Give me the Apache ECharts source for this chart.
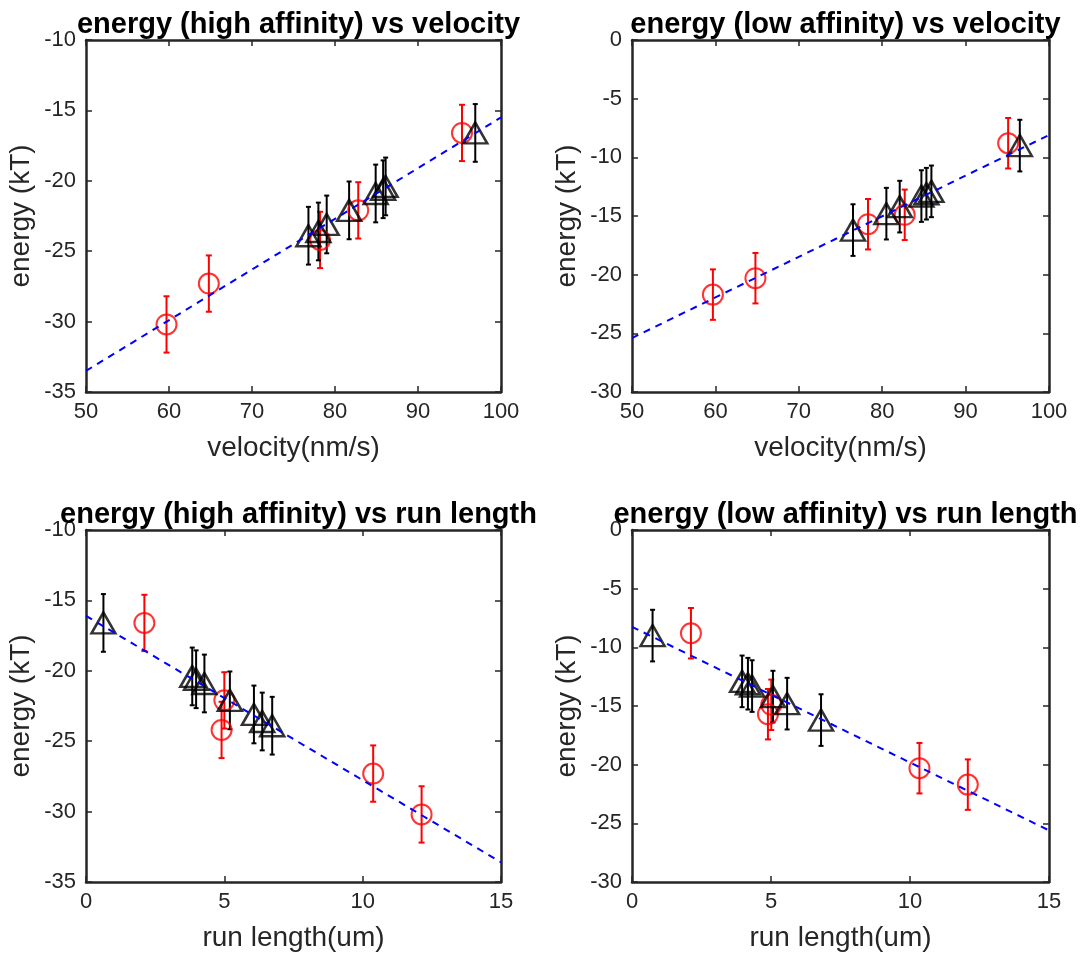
<!DOCTYPE html>
<html>
<head>
<meta charset="utf-8">
<script src="https://cdn.jsdelivr.net/npm/echarts@6/dist/echarts.min.js"></script>
<style>
  html, body { margin: 0; padding: 0; background: #fff; }
  #chart { width: 1086px; height: 955px; }
</style>
</head>
<body>
<div id="chart"></div>
<script>
// high affinity: red circles / black triangles
const velHiCircle = [59.7, 64.8, 78.2, 82.8, 95.3];
const runHiCircle = [12.13, 10.38, 4.9, 5.0, 2.11];
const engHiCircle = [-30.2, -27.3, -24.2, -22.1, -16.6];
const errHiCircle = [2.0, 2.0, 2.0, 2.0, 2.0];

const velHiTri = [76.8, 78.0, 79.0, 81.7, 84.9, 85.8, 86.1, 96.9];
const runHiTri = [6.73, 6.37, 6.07, 5.2, 4.28, 3.98, 3.84, 0.63];
const engHiTri = [-23.9, -23.6, -23.1, -22.1, -20.9, -20.6, -20.4, -16.6];
const errHiTri = [2.05, 2.05, 2.05, 2.05, 2.05, 2.05, 2.05, 2.05];

// low affinity
const velLoCircle = [59.7, 64.8, 78.3, 82.7, 95.1];
const runLoCircle = [12.08, 10.34, 4.89, 5.01, 2.12];
const engLoCircle = [-21.7, -20.3, -15.7, -14.9, -8.8];
const errLoCircle = [2.15, 2.15, 2.15, 2.15, 2.15];

const velLoTri = [76.5, 80.5, 82.1, 84.7, 85.3, 85.9, 96.5];
const runLoTri = [6.8, 5.58, 5.07, 4.32, 4.17, 3.96, 0.74];
const engLoTri = [-16.2, -14.8, -14.2, -13.3, -13.1, -12.9, -9.0];
const errLoTri = [2.2, 2.2, 2.2, 2.2, 2.2, 2.2, 2.2];

// fitted lines (end points)
const fitHiVel = [[50, -33.5], [100, -15.5]];
const fitLoVel = [[50, -25.4], [100, -8.1]];
const fitHiRun = [[0, -16.1], [15, -33.6]];
const fitLoRun = [[0, -8.25], [15, -25.6]];

// axis ticks
const velTicks = { min: 50, max: 100, interval: 10 };
const runTicks = { min: 0, max: 15, interval: 5 };
const engHiTicks = { min: -35, max: -10, interval: 5 };
const engLoTicks = { min: -30, max: 0, interval: 5 };

const titles = [
    'energy (high affinity) vs velocity',
    'energy (low affinity) vs velocity',
    'energy (high affinity) vs run length',
    'energy (low affinity) vs run length'
];

const grids = [
    { left: 86, top: 40, width: 415, height: 352 },
    { left: 632, top: 40, width: 417, height: 352 },
    { left: 86, top: 530, width: 415, height: 352 },
    { left: 632, top: 530, width: 417, height: 352 }
];

const panels = [
    { xr: velTicks, yr: engHiTicks, xName: 'velocity(nm/s)', cx: velHiCircle, cy: engHiCircle, ce: errHiCircle, tx: velHiTri, ty: engHiTri, te: errHiTri, fit: fitHiVel },
    { xr: velTicks, yr: engLoTicks, xName: 'velocity(nm/s)', cx: velLoCircle, cy: engLoCircle, ce: errLoCircle, tx: velLoTri, ty: engLoTri, te: errLoTri, fit: fitLoVel },
    { xr: runTicks, yr: engHiTicks, xName: 'run length(um)', cx: runHiCircle, cy: engHiCircle, ce: errHiCircle, tx: runHiTri, ty: engHiTri, te: errHiTri, fit: fitHiRun },
    { xr: runTicks, yr: engLoTicks, xName: 'run length(um)', cx: runLoCircle, cy: engLoCircle, ce: errLoCircle, tx: runLoTri, ty: engLoTri, te: errLoTri, fit: fitLoRun }
];

const FONT = 'Liberation Sans, Arial, Helvetica, sans-serif';
const AX = '#262626';

const zip3 = (a, b, c) => a.map((v, i) => [v, b[i], c[i]]);

function errorBars(color, cap) {
    return function (params, api) {
        const x = api.value(0), y = api.value(1), e = api.value(2);
        const hi = api.coord([x, y + e]);
        const lo = api.coord([x, y - e]);
        const s = { stroke: color, lineWidth: 2 };
        return {
            type: 'group',
            children: [
                { type: 'line', shape: { x1: hi[0], y1: hi[1], x2: lo[0], y2: lo[1] }, style: s },
                { type: 'line', shape: { x1: hi[0] - cap, y1: hi[1], x2: hi[0] + cap, y2: hi[1] }, style: s },
                { type: 'line', shape: { x1: lo[0] - cap, y1: lo[1], x2: lo[0] + cap, y2: lo[1] }, style: s }
            ]
        };
    };
}

const xAxis = [], yAxis = [], series = [], title = [];

panels.forEach((p, i) => {
    const g = grids[i];
    title.push({
        text: titles[i],
        left: g.left + g.width / 2,
        top: g.top - 35,
        textAlign: 'center',
        textStyle: { fontFamily: FONT, fontSize: 29, fontWeight: 'bold', color: '#000' }
    });
    const axisLine = { show: true, onZero: false, lineStyle: { color: AX, width: 2.5 } };
    const axisTick = { show: true, inside: true, length: 6, lineStyle: { color: AX, width: 1.5 } };
    xAxis.push({
        type: 'value', gridIndex: i, position: 'bottom',
        min: p.xr.min, max: p.xr.max, interval: p.xr.interval,
        name: p.xName, nameLocation: 'middle', nameGap: 42,
        nameTextStyle: { fontFamily: FONT, fontSize: 28, color: AX },
        axisLine, axisTick,
        axisLabel: { fontFamily: FONT, fontSize: 22, color: AX, margin: 9 },
        splitLine: { show: false }
    });
    xAxis.push({
        type: 'value', gridIndex: i, position: 'top',
        min: p.xr.min, max: p.xr.max, interval: p.xr.interval,
        axisLine, axisTick, axisLabel: { show: false }, splitLine: { show: false }
    });
    yAxis.push({
        type: 'value', gridIndex: i, position: 'left',
        min: p.yr.min, max: p.yr.max, interval: p.yr.interval,
        name: 'energy (kT)', nameLocation: 'middle', nameGap: 51,
        nameTextStyle: { fontFamily: FONT, fontSize: 28, color: AX },
        axisLine, axisTick,
        axisLabel: { fontFamily: FONT, fontSize: 22, color: AX, margin: 10 },
        splitLine: { show: false }
    });
    yAxis.push({
        type: 'value', gridIndex: i, position: 'right',
        min: p.yr.min, max: p.yr.max, interval: p.yr.interval,
        axisLine, axisTick, axisLabel: { show: false }, splitLine: { show: false }
    });
    const xi = i * 2, yi = i * 2;
    series.push({
        type: 'custom', xAxisIndex: xi, yAxisIndex: yi,
        renderItem: errorBars('#ff0000', 3),
        encode: { x: 0, y: 1 },
        data: zip3(p.cx, p.cy, p.ce), z: 2, silent: true
    });
    series.push({
        type: 'custom', xAxisIndex: xi, yAxisIndex: yi,
        renderItem: errorBars('#000000', 2.5),
        encode: { x: 0, y: 1 },
        data: zip3(p.tx, p.ty, p.te), z: 2, silent: true
    });
    series.push({
        type: 'scatter', xAxisIndex: xi, yAxisIndex: yi,
        symbol: 'circle', symbolSize: 20,
        itemStyle: { color: 'rgba(0,0,0,0)', borderColor: '#ff0000', borderWidth: 2 },
        data: p.cx.map((v, k) => [v, p.cy[k]]), z: 3, silent: true
    });
    series.push({
        type: 'scatter', xAxisIndex: xi, yAxisIndex: yi,
        symbol: 'triangle', symbolSize: [24, 21],
        itemStyle: { color: 'rgba(0,0,0,0)', borderColor: '#000000', borderWidth: 2.5 },
        data: p.tx.map((v, k) => [v, p.ty[k]]), z: 3, silent: true
    });
    series.push({
        type: 'line', xAxisIndex: xi, yAxisIndex: yi,
        data: p.fit, showSymbol: false, symbol: 'none',
        lineStyle: { color: '#0000ff', width: 2, type: [7, 6] },
        z: 4, silent: true
    });
});

const chart = echarts.init(document.getElementById('chart'));
chart.setOption({
    backgroundColor: '#ffffff',
    animation: false,
    title,
    grid: grids,
    xAxis,
    yAxis,
    series
});
</script>
</body>
</html>
